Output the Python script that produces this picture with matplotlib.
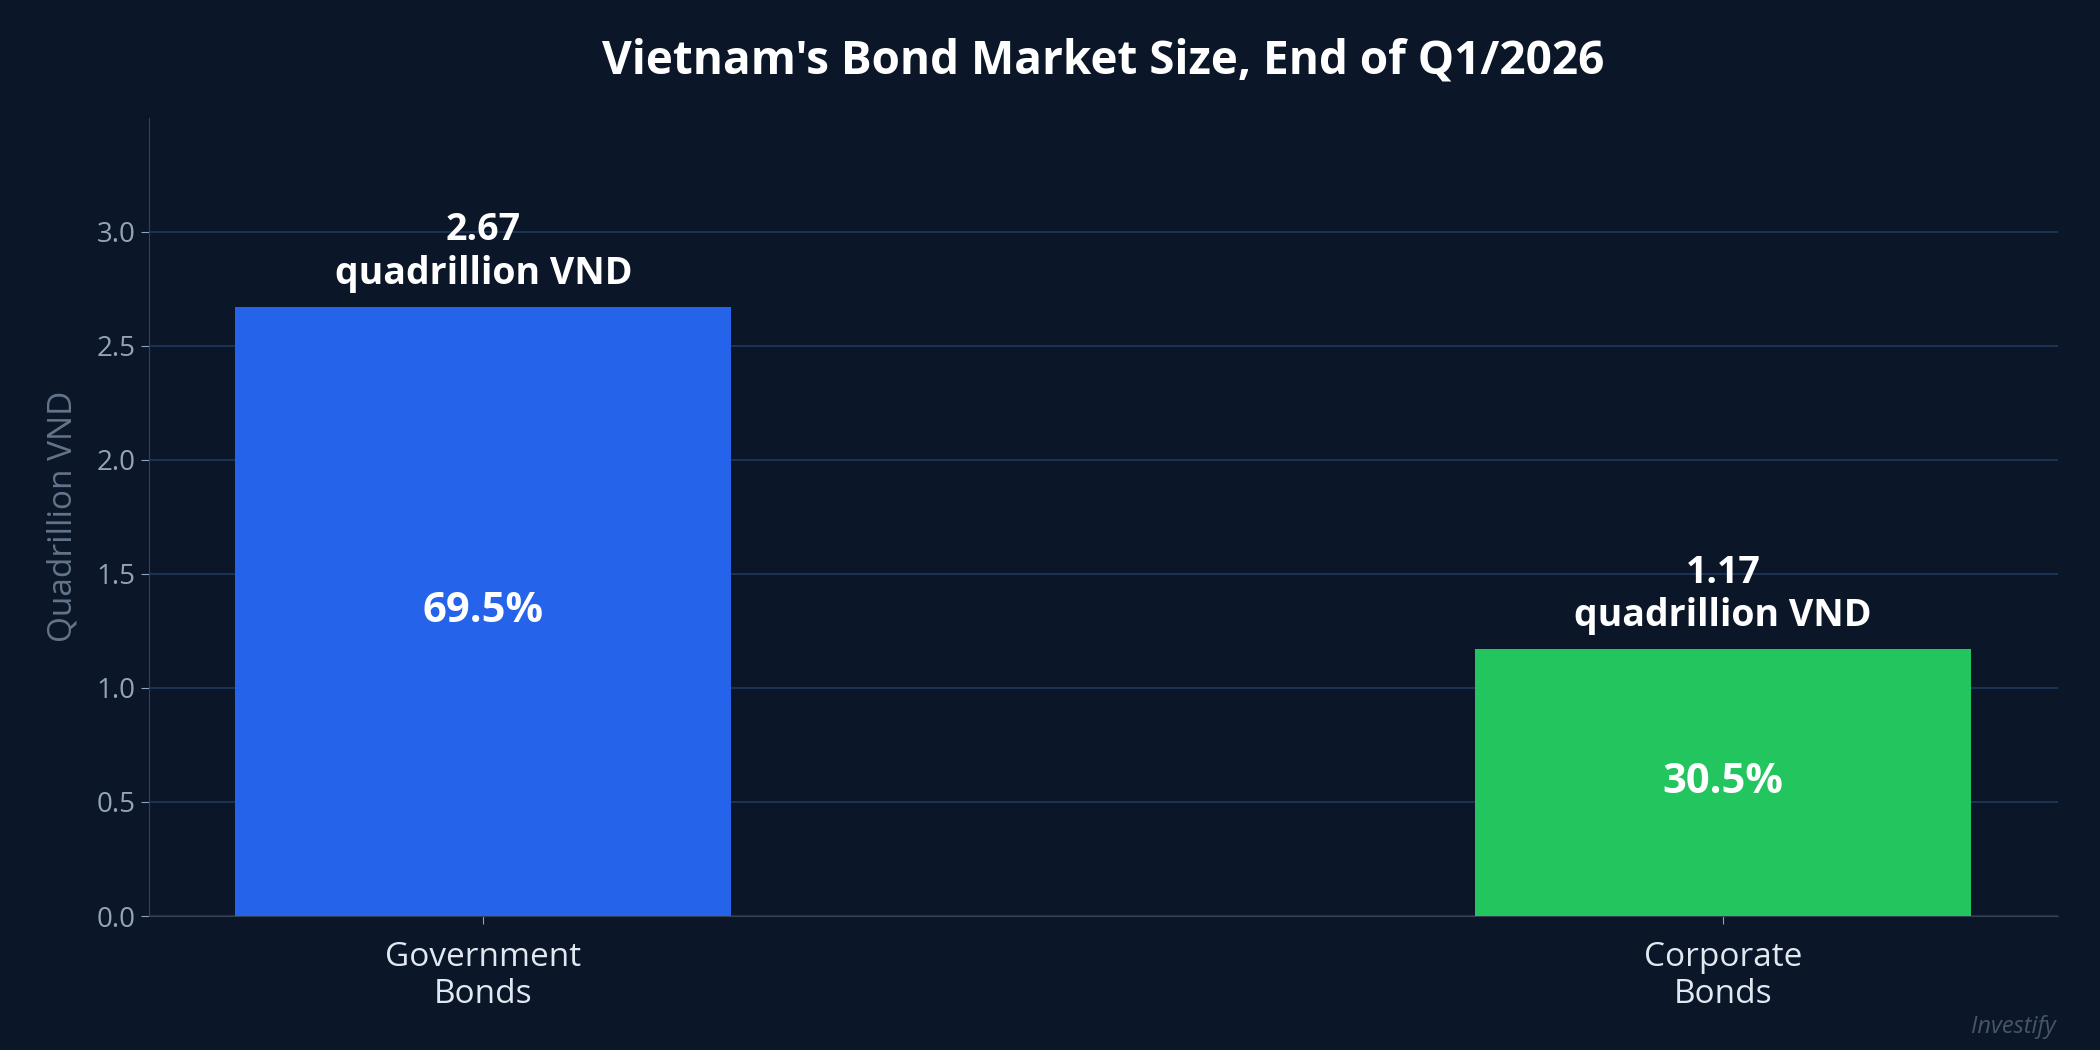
import matplotlib
matplotlib.use("Agg")
import matplotlib.pyplot as plt

categories = ["Government\nBonds", "Corporate\nBonds"]
values = [2.67, 1.17]
shares = ["69.5%", "30.5%"]
value_labels = ["2.67\nquadrillion VND", "1.17\nquadrillion VND"]
colors = ["#2563eb", "#22c55e"]

plt.rcParams['font.family'] = ['Open Sans', 'DejaVu Sans']
bg = "#0b1628"
fig = plt.figure(figsize=(21, 10.5), dpi=100, facecolor=bg)
ax = fig.add_axes([0.0708, 0.1276, 0.9092, 0.7604], facecolor=bg)
x = range(len(categories))
ax.bar(x, values, width=0.4, color=colors, zorder=3)
ax.set_xlim(-0.27, 1.27)
ax.set_ylim(0, 3.5)
yt = [0, 0.5, 1.0, 1.5, 2.0, 2.5, 3.0]
ax.set_yticks(yt)
ax.set_yticklabels([f"{v:.1f}" for v in yt])
ax.set_xticks(list(x))
ax.set_xticklabels(categories, fontsize=24, color="#e2e8f0", linespacing=1.15)
ax.tick_params(axis='y', colors="#94a3b8", labelsize=20, length=6)
ax.tick_params(axis='x', colors="#94a3b8", length=6, pad=12)
for lab in ax.get_xticklabels():
    lab.set_color("#e2e8f0")
ax.grid(axis='y', color="#1e3a5f", linewidth=1.2, zorder=0)
for s in ["top", "right"]:
    ax.spines[s].set_visible(False)
for s in ["left", "bottom"]:
    ax.spines[s].set_color("#334155")
ax.set_ylabel("Quadrillion VND", fontsize=24, color="#64748b", labelpad=12)
for i, v in enumerate(values):
    ax.text(i, v + 0.06, value_labels[i], ha='center', va='bottom', fontsize=27,
            fontweight='bold', color='white', linespacing=1.2)
    ax.text(i, v / 2, shares[i], ha='center', va='center', fontsize=30,
            fontweight='bold', color='white')
fig.text(0.0708 + 0.9092 / 2, 0.942, "Vietnam's Bond Market Size, End of Q1/2026",
         ha='center', va='center', fontsize=33, fontweight='bold', color='white')
fig.text(0.979, 0.022, "Investify", ha='right', va='center', fontsize=17,
         style='italic', color="#475569")
fig.savefig("out.png", facecolor=bg)
